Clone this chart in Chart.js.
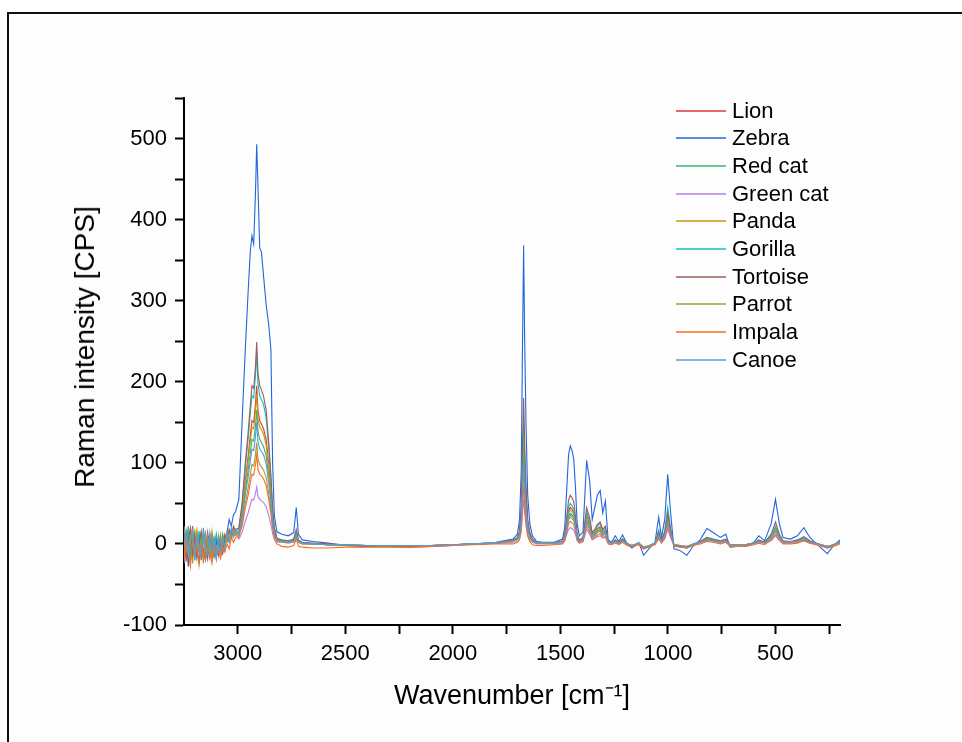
<!DOCTYPE html>
<html>
<head>
<meta charset="utf-8">
<script src="https://cdn.jsdelivr.net/npm/chart.js@4.4.1/dist/chart.umd.min.js"></script>
<style>
  html, body { margin: 0; padding: 0; background: #fff; }
  #wrap { position: relative; width: 962px; height: 742px; overflow: hidden; }
  #frame {
    position: absolute; left: 7px; top: 12px; width: 1000px; height: 800px;
    border: 2px solid #111; box-sizing: border-box; background: #fdfdfd;
  }
  canvas { position: absolute; left: 0; top: 0; }
  #legend {
    position: absolute; left: 676px; top: 97px;
    font-family: "Liberation Sans", Arial, sans-serif; font-size: 22px; color: #000;
  }
  #legend .row { display: flex; align-items: center; height: 27.67px; }
  #legend .swatch { width: 50px; height: 2px; margin-right: 6px; opacity: 0.75; }
  #ytitle {
    position: absolute; left: 85px; top: 347px; white-space: nowrap;
    transform: translate(-50%, -50%) rotate(-90deg);
    font-family: "Liberation Sans", Arial, sans-serif; font-size: 28px; color: #000;
  }
</style>
</head>
<body>
<div id="wrap">
  <div id="frame"></div>
  <canvas id="chart" width="962" height="742"></canvas>
  <div id="legend"></div>
  <div id="ytitle">Raman intensity [CPS]</div>
</div>
<script>
// Raman spectra, wavenumber axis runs high -> low
const wavenumbers = [
  3250, 3240, 3230, 3220, 3210, 3200, 3190, 3180, 3170, 3160,
  3150, 3140, 3130, 3120, 3110, 3100, 3090, 3080, 3070, 3060,
  3050, 3040, 3030, 3020, 3010,
  2995, 2980, 2965, 2952, 2942, 2934, 2926, 2918, 2912, 2906, 2898, 2890, 2880, 2868, 2856, 2846, 2838, 2830, 2818,
  2795, 2765, 2740, 2728, 2718, 2700, 2650, 2580, 2500, 2400, 2300, 2200, 2100, 2000, 1900, 1800,
  1720, 1700, 1690, 1682, 1676, 1671, 1666, 1660, 1652, 1642, 1630, 1610,
  1580, 1530, 1490, 1480, 1470, 1462, 1454, 1446, 1438, 1430, 1422, 1412, 1395, 1378,
  1364, 1352, 1340, 1328, 1315, 1303, 1291, 1278, 1262, 1245,
  1228, 1211, 1190, 1167, 1136, 1113, 1085, 1060, 1043, 1030,
  1015, 1001, 988, 972, 945, 912, 881, 850, 819, 790,
  756, 731, 711, 680, 640, 600, 578, 550, 520, 500,
  482, 465, 430, 398, 368, 340, 300, 259, 230, 200
];

const lion = [
  10, -14, 18, -6, 22, -18, 4, 12, -20, 8, -4, 14, -16, 2, -8, 10, -14, 6, -2, 12, 4, 16, 8, 20, 12,
  16, 39, 78, 107, 133, 152, 150, 172, 195, 164, 152, 148, 142, 129, 98, 66, 35, 16, 6,
  4, 3, 5, 14, 4, 1, 0, -1, -2, -3, -3, -3, -2, -1, 0, 1,
  4, 7, 12, 35, 90, 130, 90, 54, 23, 10, 4, 1,
  1, 1, 3, 8, 26, 41, 45, 43, 39, 26, 9, 4, 6, 35,
  25, 10, 14, 19, 21, 14, 17, 2, 1, 4,
  1, 5, 0, -3, 1, -5, -2, 1, 13, 3,
  12, 35, 16, -2, -3, -5, 0, 2, 6, 5,
  3, 5, -1, -1, -1, 1, 4, 2, 9, 20,
  9, 3, 2, 4, 7, 3, 0, -4, -1, 2
];
const zebra = [
  -8, 12, -28, 4, -14, 10, -6, -22, 6, -12, 2, -18, 8, -10, -16, 4, -12, -4, 10, -6, 14, 30, 22, 36, 40,
  55, 150, 240, 310, 360, 380, 370, 430, 493, 440, 365, 360, 330, 295, 270, 240, 100, 35, 15,
  12, 10, 14, 45, 12, 5, 3, 1, -2, -3, -3, -4, -3, -2, 0, 2,
  6, 12, 30, 90, 250, 368, 250, 150, 60, 25, 10, 3,
  2, 2, 6, 20, 70, 110, 121, 115, 105, 70, 25, 10, 15, 103,
  78, 30, 45, 60, 66, 38, 53, 5, 2, 10,
  3, 11, 0, -5, 2, -14, -5, 2, 33, 8,
  30, 86, 40, -6, -8, -14, -2, 5, 19, 14,
  8, 12, -4, -3, -3, 2, 10, 4, 25, 55,
  25, 8, 6, 10, 20, 8, -2, -12, -2, 5
];
const redCat = [
  -16, 6, 14, -20, 2, 16, -10, -2, 12, -18, 8, -6, -14, 10, 0, -18, 6, -10, 12, -4, 8, 2, 18, 10, 14,
  13, 33, 66, 91, 112, 129, 127, 145, 165, 139, 129, 125, 120, 109, 82, 56, 30, 13, 5,
  3, 2, 4, 11, 3, 1, 0, -1, -1, -2, -2, -2, -2, -1, 0, 1,
  4, 6, 11, 31, 80, 115, 80, 48, 20, 9, 4, 1,
  1, 1, 3, 7, 22, 34, 38, 36, 33, 22, 8, 3, 5, 30,
  21, 9, 12, 16, 18, 12, 15, 2, 1, 4,
  1, 4, 0, -2, 1, -4, -2, 1, 11, 3,
  10, 30, 14, -1, -2, -4, 0, 2, 6, 4,
  3, 4, -1, -1, -1, 1, 3, 2, 8, 18,
  8, 3, 2, 3, 6, 3, 0, -4, -1, 2
];
const greenCat = [
  4, -10, 8, 16, -8, -2, 12, -14, 0, 6, -12, 10, -4, -16, 8, -6, 2, -12, 6, 0, 10, 4, 14, 8, 16,
  6, 14, 28, 38, 48, 55, 54, 62, 70, 59, 55, 53, 51, 46, 35, 24, 13, 6, 2,
  2, 1, 2, 6, 2, 0, 0, -1, -1, -2, -2, -2, -2, -1, 0, 1,
  2, 3, 6, 15, 38, 55, 38, 23, 10, 4, 2, 0,
  0, 0, 1, 4, 12, 18, 20, 19, 17, 12, 4, 1, 3, 18,
  12, 5, 7, 9, 10, 7, 8, 1, 0, 2,
  0, 3, 0, -2, 0, -4, -2, 0, 6, 2,
  6, 18, 8, -1, -2, -3, 0, 1, 4, 3,
  1, 2, -1, -1, -1, 0, 2, 1, 4, 10,
  4, 1, 1, 2, 4, 1, 0, -3, -1, 1
];
const panda = [
  -20, 16, -4, 10, -24, 6, 18, -10, -2, 14, -16, 2, 10, -20, 6, -8, -2, 12, -10, 4, 2, 14, 6, 16, 10,
  15, 37, 74, 102, 126, 144, 142, 163, 185, 155, 144, 141, 135, 122, 92, 63, 33, 15, 5,
  3, 2, 4, 12, 3, 1, 0, -1, -2, -2, -3, -3, -2, -1, 0, 1,
  4, 7, 13, 37, 96, 138, 96, 57, 24, 11, 5, 1,
  1, 1, 3, 8, 24, 38, 42, 40, 37, 24, 9, 3, 6, 33,
  23, 10, 13, 18, 20, 13, 16, 2, 1, 4,
  1, 5, 0, -2, 1, -5, -2, 1, 12, 3,
  11, 32, 15, -1, -2, -4, 0, 2, 6, 4,
  3, 4, -1, -1, -1, 1, 4, 2, 9, 20,
  9, 3, 2, 4, 7, 3, 0, -4, -1, 2
];
const gorilla = [
  8, -6, 22, -14, 12, -2, -18, 16, -8, 4, 14, -12, 0, 8, -14, 12, -6, 2, -10, 8, 12, 4, 16, 12, 18,
  19, 47, 94, 129, 160, 183, 180, 207, 235, 197, 183, 178, 172, 155, 118, 80, 42, 19, 7,
  4, 3, 5, 15, 4, 1, 0, -1, -2, -2, -3, -3, -2, -1, 0, 1,
  5, 7, 14, 40, 104, 150, 104, 62, 26, 12, 5, 2,
  1, 1, 3, 9, 29, 45, 50, 47, 43, 29, 10, 4, 7, 40,
  28, 12, 16, 22, 25, 16, 20, 3, 1, 5,
  2, 6, 1, -3, 1, -6, -3, 1, 17, 4,
  16, 45, 20, -2, -3, -5, 0, 3, 7, 5,
  3, 5, -1, -1, -1, 1, 4, 2, 10, 22,
  10, 3, 2, 4, 8, 3, 0, -5, -1, 2
];
const tortoise = [
  14, -22, 6, 20, -12, 8, -16, 2, 16, -8, -20, 6, 12, -6, 4, -16, 8, -2, -12, 10, 6, 18, 10, 22, 16,
  20, 50, 100, 137, 170, 195, 192, 218, 249, 210, 195, 190, 182, 165, 125, 85, 45, 20, 7,
  5, 4, 6, 18, 5, 2, 1, 0, -1, -2, -2, -3, -2, -1, 0, 1,
  5, 8, 16, 47, 124, 180, 124, 74, 31, 14, 6, 2,
  1, 1, 4, 11, 35, 54, 60, 57, 52, 35, 12, 5, 8, 45,
  32, 14, 18, 24, 27, 18, 22, 3, 1, 5,
  2, 6, 1, -3, 1, -6, -3, 1, 15, 4,
  14, 38, 18, -2, -3, -5, 0, 3, 8, 6,
  4, 6, -1, -1, -1, 1, 5, 2, 12, 27,
  12, 4, 3, 5, 9, 4, 0, -5, -1, 3
];
const parrot = [
  22, -4, -14, 8, 18, -20, 10, -8, 4, -24, 12, 0, -10, 16, -4, -12, 2, 10, -8, -2, 14, 6, 10, 18, 12,
  10, 25, 50, 69, 85, 98, 96, 110, 125, 105, 98, 95, 91, 82, 62, 42, 22, 10, 4,
  2, 2, 3, 9, 2, 0, 0, -1, -1, -2, -2, -2, -2, -1, 0, 1,
  3, 5, 9, 25, 63, 90, 63, 38, 16, 7, 3, 1,
  1, 1, 2, 6, 19, 30, 33, 31, 29, 19, 7, 3, 5, 26,
  18, 8, 10, 14, 16, 10, 13, 2, 1, 3,
  1, 4, 0, -2, 1, -4, -2, 1, 9, 2,
  9, 26, 12, -1, -2, -3, 0, 2, 5, 4,
  2, 3, -1, -1, -1, 1, 3, 1, 7, 15,
  7, 2, 2, 3, 5, 2, 0, -3, -1, 2
];
const impala = [
  -24, 2, -10, -28, 6, -16, -4, -26, 0, -14, -20, 4, -12, -24, -2, -16, -8, -18, -4, -10, 0, -6, 8, 2, 8,
  9, 22, 44, 60, 75, 86, 85, 97, 110, 92, 86, 84, 80, 72, 55, 37, 20, 6, 0,
  -3, -4, -2, 6, -3, -4, -5, -5, -4, -4, -4, -4, -3, -2, -1, 0,
  0, 2, 5, 18, 49, 72, 49, 28, 10, 3, -1, -2,
  -2, -1, 0, 4, 15, 25, 28, 26, 24, 15, 5, 1, 3, 22,
  15, 6, 8, 11, 13, 8, 10, 0, -1, 1,
  -1, 2, -2, -4, -1, -6, -3, -1, 7, 1,
  7, 22, 10, -3, -4, -5, -2, 0, 3, 2,
  0, 2, -3, -3, -3, -1, 1, -1, 5, 12,
  5, 0, 0, 1, 4, 1, -2, -5, -3, 0
];
const canoe = [
  -6, 18, -12, 2, 14, -20, 10, -4, -16, 20, -2, -12, 14, -8, 6, -18, 10, -10, 4, -4, 12, 2, 20, 10, 18,
  12, 30, 60, 82, 102, 117, 115, 132, 150, 126, 117, 114, 110, 99, 75, 51, 27, 12, 4,
  3, 2, 4, 10, 3, 1, 0, -1, -1, -2, -2, -2, -2, -1, 0, 1,
  4, 6, 10, 28, 70, 100, 70, 42, 18, 8, 4, 1,
  1, 1, 3, 7, 21, 32, 36, 34, 31, 21, 7, 3, 5, 28,
  20, 8, 11, 15, 17, 11, 14, 2, 1, 3,
  1, 4, 0, -2, 1, -4, -2, 1, 10, 3,
  10, 28, 13, -1, -2, -4, 0, 2, 5, 4,
  2, 4, -1, -1, -1, 1, 3, 1, 7, 16,
  7, 2, 2, 3, 6, 2, 0, -3, -1, 2
];

const seriesNames = ["Lion", "Zebra", "Red cat", "Green cat", "Panda", "Gorilla", "Tortoise", "Parrot", "Impala", "Canoe"];
const seriesValues = [lion, zebra, redCat, greenCat, panda, gorilla, tortoise, parrot, impala, canoe];
const seriesColors = ["#d93a3a", "#2266dd", "#3cb371", "#b57ee8", "#c8960c", "#10bfbf", "#9a5e5e", "#9ea03a", "#ff6a20", "#5b9bd8"];

// tick positions (minor + major) and the ones that carry a label
const xTicks = [3000, 2750, 2500, 2250, 2000, 1750, 1500, 1250, 1000, 750, 500, 250];
const xTickLabels = [3000, 2500, 2000, 1500, 1000, 500];
const yTicks = [-100, -50, 0, 50, 100, 150, 200, 250, 300, 350, 400, 450, 500, 550];
const yTickLabels = [-100, 0, 100, 200, 300, 400, 500];

const FONT = '"Liberation Sans", Arial, sans-serif';

// legend (one column, lines + labels, sitting over the plot like the original)
const legendEl = document.getElementById("legend");
seriesNames.forEach((name, i) => {
  const row = document.createElement("div");
  row.className = "row";
  const sw = document.createElement("div");
  sw.className = "swatch";
  sw.style.background = seriesColors[i];
  const txt = document.createElement("span");
  txt.textContent = name;
  row.appendChild(sw);
  row.appendChild(txt);
  legendEl.appendChild(row);
});

const datasets = seriesNames.map((name, i) => ({
  label: name,
  data: wavenumbers.map((x, j) => ({ x, y: seriesValues[i][j] })),
  borderColor: seriesColors[i],
  borderWidth: 1.1,
  pointRadius: 0,
  tension: 0,
  fill: false,
  // later series painted on top, like the source plot
  order: seriesNames.length - i,
}));

new Chart(document.getElementById("chart").getContext("2d"), {
  type: "line",
  data: { datasets },
  options: {
    responsive: false,
    animation: false,
    events: [],
    layout: { padding: { left: 0, top: 98, right: 122, bottom: 0 } },
    plugins: { legend: { display: false }, tooltip: { enabled: false } },
    scales: {
      x: {
        type: "linear",
        reverse: true,
        min: 200,
        max: 3250,
        afterBuildTicks: (s) => { s.ticks = xTicks.map((v) => ({ value: v })); },
        afterFit: (s) => { s.height = 117; },
        border: { color: "#000", width: 2 },
        grid: { drawOnChartArea: false, tickLength: 9, tickWidth: 2, tickColor: "#000" },
        ticks: {
          autoSkip: false,
          maxRotation: 0,
          padding: 7,
          color: "#000",
          font: { family: FONT, size: 22 },
          callback: (v) => (xTickLabels.includes(v) ? String(v) : ""),
        },
        title: {
          display: true,
          text: "Wavenumber [cm\u207B\u00B9]",
          color: "#000",
          font: { family: FONT, size: 27 },
          padding: { top: 0, bottom: 29 },
        },
      },
      y: {
        min: -100,
        max: 550,
        afterBuildTicks: (s) => { s.ticks = yTicks.map((v) => ({ value: v })); },
        afterFit: (s) => { s.width = 184; },
        border: { color: "#000", width: 2 },
        grid: { drawOnChartArea: false, tickLength: 9, tickWidth: 2, tickColor: "#000" },
        ticks: {
          autoSkip: false,
          padding: 8,
          color: "#000",
          font: { family: FONT, size: 22 },
          callback: (v) => (yTickLabels.includes(v) ? String(v) : ""),
        },
      },
    },
  },
});
</script>
</body>
</html>
